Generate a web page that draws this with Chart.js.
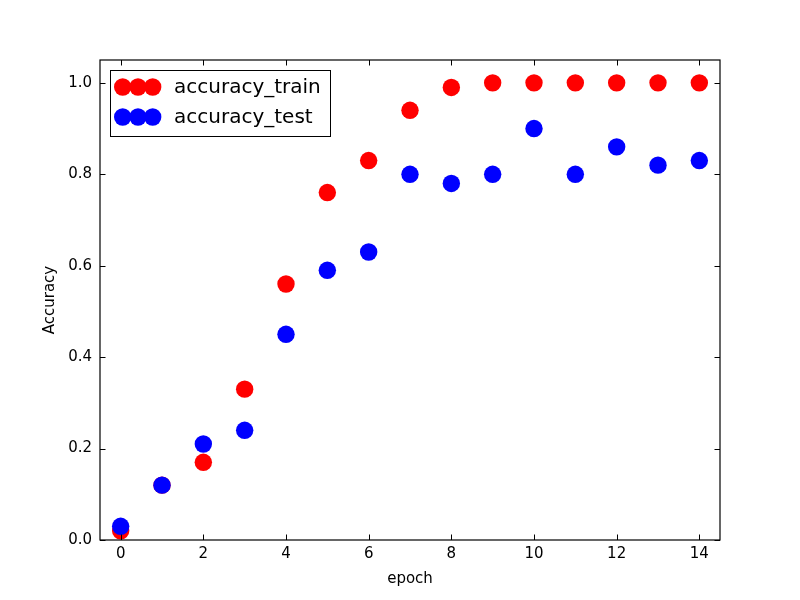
<!DOCTYPE html>
<html>
<head>
<meta charset="utf-8">
<script src="https://cdn.jsdelivr.net/npm/chart.js@4"></script>
<style>
html,body{margin:0;padding:0;background:#fff;}
canvas{display:block;}
</style>
</head>
<body>
<canvas id="c" width="800" height="600"></canvas>
<script>
const epochs = [0,1,2,3,4,5,6,7,8,9,10,11,12,13,14];
const trainAcc = [0.02,0.12,0.17,0.33,0.56,0.76,0.83,0.94,0.99,1.0,1.0,1.0,1.0,1.0,1.0];
const testAcc = [0.03,0.12,0.21,0.24,0.45,0.59,0.63,0.80,0.78,0.80,0.90,0.80,0.86,0.82,0.83];
const xTicks = [0,2,4,6,8,10,12,14];
const yTicks = [0.0,0.2,0.4,0.6,0.8,1.0];
const seriesNames = ['accuracy_train','accuracy_test'];
const seriesColors = ['#ff0000','#0000ff'];

const FONT = "'DejaVu Sans', sans-serif";

const framePlugin = {
  id: 'frame',
  afterDraw(chart) {
    const ctx = chart.ctx;
    const a = chart.chartArea;
    const xs = chart.scales.x, ys = chart.scales.y;
    ctx.save();
    ctx.strokeStyle = '#000';
    ctx.lineWidth = 1.2;
    ctx.strokeRect(a.left, a.top, a.right - a.left, a.bottom - a.top);
    const tl = 5.5;
    ctx.lineWidth = 1;
    ctx.beginPath();
    xTicks.forEach(v => {
      const px = Math.round(xs.getPixelForValue(v)) + 0.5;
      ctx.moveTo(px, a.bottom); ctx.lineTo(px, a.bottom - tl);
      ctx.moveTo(px, a.top); ctx.lineTo(px, a.top + tl);
    });
    yTicks.forEach(v => {
      const py = Math.round(ys.getPixelForValue(v)) + 0.5;
      ctx.moveTo(a.left, py); ctx.lineTo(a.left + tl, py);
      ctx.moveTo(a.right, py); ctx.lineTo(a.right - tl, py);
    });
    ctx.stroke();

    // legend
    const bx = 110.5, by = 70.5, bw = 220, bh = 66;
    ctx.fillStyle = '#fff';
    ctx.fillRect(bx, by, bw, bh);
    ctx.lineWidth = 1;
    ctx.strokeStyle = '#000';
    ctx.strokeRect(bx, by, bw, bh);
    const rowsY = [87, 117];
    const mx = [122.7, 138, 152.7];
    ctx.font = '20px ' + FONT;
    ctx.textBaseline = 'middle';
    ctx.textAlign = 'left';
    seriesNames.forEach((name, i) => {
      ctx.fillStyle = seriesColors[i];
      mx.forEach(x => {
        ctx.beginPath();
        ctx.arc(x, rowsY[i], 8.7, 0, Math.PI * 2);
        ctx.fill();
      });
      ctx.fillStyle = '#000';
      ctx.fillText(name, 174, rowsY[i] + 1);
    });
    ctx.restore();
  }
};

const toXY = (arr) => arr.map((v, i) => ({x: epochs[i], y: v}));

new Chart(document.getElementById('c'), {
  type: 'scatter',
  data: {
    datasets: [
      {label: seriesNames[0], data: toXY(trainAcc), backgroundColor: seriesColors[0], borderWidth: 0, pointRadius: 8.7, pointHoverRadius: 8.7, order: 2},
      {label: seriesNames[1], data: toXY(testAcc), backgroundColor: seriesColors[1], borderWidth: 0, pointRadius: 8.7, pointHoverRadius: 8.7, order: 1}
    ]
  },
  options: {
    responsive: false,
    animation: false,
    devicePixelRatio: 1,
    layout: {padding: {top: 60, right: 80, left: 0, bottom: 0}},
    plugins: {legend: {display: false}, tooltip: {enabled: false}},
    scales: {
      x: {
        type: 'linear', min: -0.5, max: 14.5,
        grid: {display: false, drawTicks: false},
        border: {display: false},
        afterBuildTicks: (s) => { s.ticks = xTicks.map(v => ({value: v})); },
        afterFit: (s) => { s.height = 60; },
        ticks: {padding: 5, color: '#000', font: {family: FONT, size: 15}, maxRotation: 0, callback: (v) => String(v)},
        title: {display: true, text: 'epoch', color: '#000', font: {family: FONT, size: 15}, padding: {top: 0, bottom: 12}}
      },
      y: {
        type: 'linear', min: 0, max: 1.05,
        grid: {display: false, drawTicks: false},
        border: {display: false},
        afterBuildTicks: (s) => { s.ticks = yTicks.map(v => ({value: v})); },
        afterFit: (s) => { s.width = 100; },
        ticks: {padding: 8, color: '#000', font: {family: FONT, size: 15}, callback: (v) => Number(v).toFixed(1)},
        title: {display: true, text: 'Accuracy', color: '#000', font: {family: FONT, size: 15}, padding: {top: 41, bottom: 0}}
      }
    }
  },
  plugins: [framePlugin]
});
</script>
</body>
</html>
